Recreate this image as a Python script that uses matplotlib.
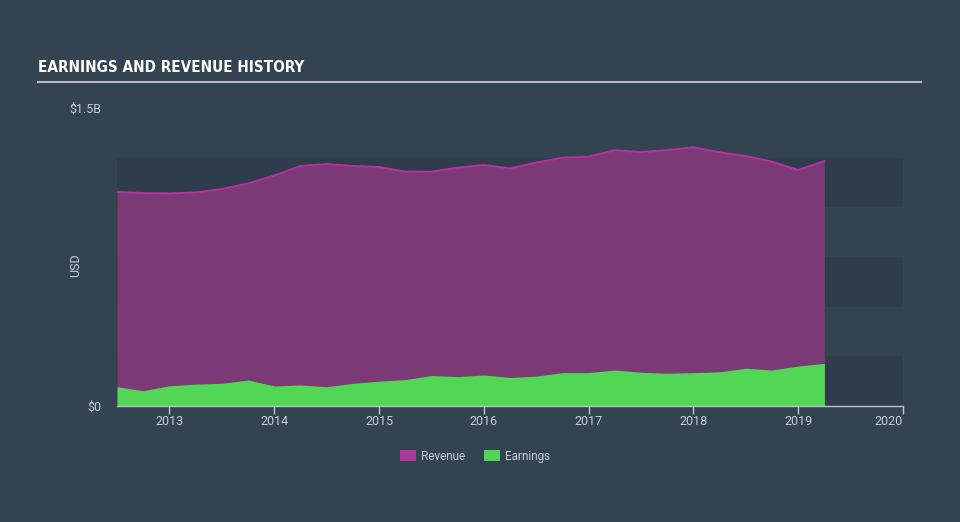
import matplotlib
matplotlib.use("Agg")
import matplotlib.pyplot as plt
from matplotlib.patches import Patch

# ---- data (decimal years, values in USD billions) ----
years = [2012.50, 2012.75, 2013.00, 2013.25, 2013.50, 2013.75, 2014.00, 2014.25,
         2014.50, 2014.75, 2015.00, 2015.25, 2015.50, 2015.75, 2016.00, 2016.25,
         2016.50, 2016.75, 2017.00, 2017.25, 2017.50, 2017.75, 2018.00, 2018.25,
         2018.50, 2018.75, 2019.00, 2019.25]
revenue = [1.078, 1.072, 1.070, 1.075, 1.092, 1.120, 1.160, 1.208,
           1.218, 1.208, 1.203, 1.180, 1.179, 1.200, 1.213, 1.196,
           1.225, 1.250, 1.255, 1.288, 1.278, 1.288, 1.302, 1.277,
           1.258, 1.230, 1.188, 1.233]
earnings = [0.097, 0.077, 0.102, 0.110, 0.114, 0.131, 0.101, 0.106,
            0.097, 0.114, 0.125, 0.133, 0.153, 0.148, 0.156, 0.144,
            0.150, 0.168, 0.168, 0.181, 0.170, 0.165, 0.168, 0.172,
            0.190, 0.181, 0.201, 0.215]
x_ticks = [2013, 2014, 2015, 2016, 2017, 2018, 2019, 2020]
y_ticks = [0, 1.5]
y_tick_labels = ["$0", "$1.5B"]
series_names = ["Revenue", "Earnings"]

BG = "#344352"
BAND = "#2e3c4b"
TXT = "#c9cdd2"
REV_FILL = "#7b3a76"
REV_LINE = "#b5339f"
REV_LEG = "#a83a98"
EARN = "#52d655"
FONT = ["Roboto", "DejaVu Sans"]

fig = plt.figure(figsize=(9.6, 5.22), dpi=100, facecolor=BG)
ax = fig.add_axes([117/960, 1-406/522, (903-117)/960, (406-108)/522])
ax.set_facecolor(BG)

# background bands
for i in range(5):
    ax.axhspan(i*0.25, (i+1)*0.25, color=BAND if i % 2 == 0 else BG, lw=0, zorder=0)

ax.fill_between(years, 0, revenue, color=REV_FILL, lw=0, zorder=2)
ax.plot(years, revenue, color=REV_LINE, lw=1.4, zorder=3)
ax.fill_between(years, 0, earnings, color=EARN, lw=0, zorder=4)

ax.set_xlim(2012.5, 2020.0)
ax.set_ylim(0, 1.5)
for s in ["top", "right", "left"]:
    ax.spines[s].set_visible(False)
ax.spines["bottom"].set_color("#c0c4c8")
ax.spines["bottom"].set_linewidth(1)
ax.spines["bottom"].set_zorder(5)

ax.set_xticks(x_ticks)
ax.set_xticklabels([str(t) for t in x_ticks], family=FONT)
ax.tick_params(axis="x", colors="#c0c4c8", labelcolor=TXT, length=6, width=1,
               direction="out", labelsize=9, pad=0.5)
ax.get_xticklabels()[-1].set_horizontalalignment("right")
ax.get_xticklabels()[-1].set_x(2020.0)
ax.set_yticks(y_ticks)
ax.set_yticklabels(y_tick_labels, family=FONT)
ax.tick_params(axis="y", length=0, labelcolor=TXT, labelsize=9, pad=11)

fig.text(76/960, 1-265/522, "USD", rotation=90, color=TXT, fontsize=9,
         family=FONT, ha="center", va="center")

# title and rule
fig.text(38/960, 1-68/522, "EARNINGS AND REVENUE HISTORY",
         family="DejaVu Sans", fontstretch="condensed", fontweight="bold",
         fontsize=11, color="white", ha="left", va="center")
fig.add_artist(plt.Line2D([38/960, 921/960], [1-82/522, 1-82/522],
                          color="#b8bcc0", lw=1.5))

handles = [Patch(facecolor=REV_LEG, edgecolor="none"),
           Patch(facecolor=EARN, edgecolor="none")]
leg = fig.legend(handles, series_names, loc="center", bbox_to_anchor=(475/960, 1-456/522),
                 ncol=2, frameon=False, prop={"family": FONT, "size": 8.5},
                 handlelength=1.36, handleheight=1.0,
                 columnspacing=1.6, handletextpad=0.42)
for t in leg.get_texts():
    t.set_color(TXT)

fig.savefig("out.png", dpi=100, facecolor=BG)
